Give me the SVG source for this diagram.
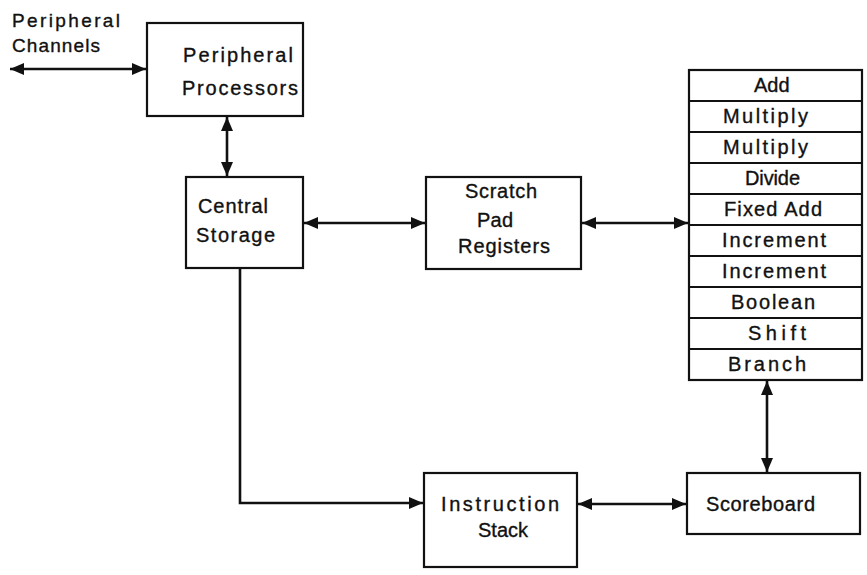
<svg xmlns="http://www.w3.org/2000/svg" width="867" height="575" viewBox="0 0 867 575">
  <style>
    .box { fill: #fff; stroke: #111; stroke-width: 2.2; }
    .row { fill: none; stroke: #111; stroke-width: 1.8; }
    .wire { fill: none; stroke: #111; stroke-width: 2.6; }
    text { font-family: "Liberation Sans", Arial, Helvetica, sans-serif; font-size: 20px; fill: #111; stroke: #111; stroke-width: 0.35; }
    .small { font-size: 19px; }
    .mid { text-anchor: middle; }
  </style>
  <defs>
    <marker id="head" markerUnits="userSpaceOnUse" markerWidth="15" markerHeight="12" refX="14" refY="6" orient="auto-start-reverse">
      <path d="M0,0 L14,6 L0,12 z" fill="#111"/>
    </marker>
  </defs>
  <rect width="867" height="575" fill="#fff"/>

  <!-- connectors -->
  <g id="connectors">
    <line class="wire" x1="10" y1="69" x2="146" y2="69" marker-start="url(#head)" marker-end="url(#head)"/>
    <line class="wire" x1="227" y1="117" x2="227" y2="176" marker-start="url(#head)" marker-end="url(#head)"/>
    <line class="wire" x1="304" y1="223" x2="425" y2="223" marker-start="url(#head)" marker-end="url(#head)"/>
    <line class="wire" x1="582" y1="223" x2="688" y2="223" marker-start="url(#head)" marker-end="url(#head)"/>
    <line class="wire" x1="767" y1="381" x2="767" y2="472" marker-start="url(#head)" marker-end="url(#head)"/>
    <line class="wire" x1="578" y1="504" x2="686" y2="504" marker-start="url(#head)" marker-end="url(#head)"/>
    <polyline class="wire" points="240,269 240,503 423,503" marker-end="url(#head)"/>
  </g>

  <!-- external channel label -->
  <g id="peripheral-channels">
    <text class="small" x="12" y="27" textLength="108" lengthAdjust="spacing">Peripheral</text>
    <text class="small" x="12" y="52" textLength="88" lengthAdjust="spacing">Channels</text>
  </g>

  <g id="peripheral-processors">
    <rect class="box" x="147" y="23" width="156" height="93"/>
    <text x="183" y="62" textLength="110" lengthAdjust="spacing">Peripheral</text>
    <text x="182" y="95" textLength="116" lengthAdjust="spacing">Processors</text>
  </g>

  <g id="central-storage">
    <rect class="box" x="186" y="177" width="117" height="91"/>
    <text x="198" y="213" textLength="70" lengthAdjust="spacing">Central</text>
    <text x="196" y="242" textLength="79" lengthAdjust="spacing">Storage</text>
  </g>

  <g id="scratch-pad-registers">
    <rect class="box" x="426" y="177" width="155" height="92"/>
    <text x="465" y="198" textLength="72" lengthAdjust="spacing">Scratch</text>
    <text x="477" y="227" textLength="36" lengthAdjust="spacing">Pad</text>
    <text x="458" y="253" textLength="92" lengthAdjust="spacing">Registers</text>
  </g>

  <g id="functional-units">
    <rect class="box" x="689" y="70" width="173" height="310"/>
    <path class="row" d="M689,101 H862 M689,132 H862 M689,163 H862 M689,194 H862 M689,225 H862 M689,256 H862 M689,287 H862 M689,318 H862 M689,349 H862"/>
    <text x="754" y="92">Add</text>
    <text x="723" y="123" textLength="85" lengthAdjust="spacing">Multiply</text>
    <text x="723" y="154" textLength="85" lengthAdjust="spacing">Multiply</text>
    <text x="745" y="185" textLength="55" lengthAdjust="spacing">Divide</text>
    <text x="724" y="216" textLength="98" lengthAdjust="spacing">Fixed Add</text>
    <text x="722" y="247" textLength="104" lengthAdjust="spacing">Increment</text>
    <text x="722" y="278" textLength="104" lengthAdjust="spacing">Increment</text>
    <text x="731" y="309" textLength="84" lengthAdjust="spacing">Boolean</text>
    <text x="748" y="340" textLength="58" lengthAdjust="spacing">Shift</text>
    <text x="728" y="371" textLength="78" lengthAdjust="spacing">Branch</text>
  </g>

  <g id="instruction-stack">
    <rect class="box" x="424" y="473" width="153" height="94"/>
    <text x="441" y="511" textLength="118" lengthAdjust="spacing">Instruction</text>
    <text class="mid" x="503" y="537">Stack</text>
  </g>

  <g id="scoreboard">
    <rect class="box" x="687" y="473" width="173" height="61"/>
    <text x="706" y="511" textLength="109" lengthAdjust="spacing">Scoreboard</text>
  </g>
</svg>
